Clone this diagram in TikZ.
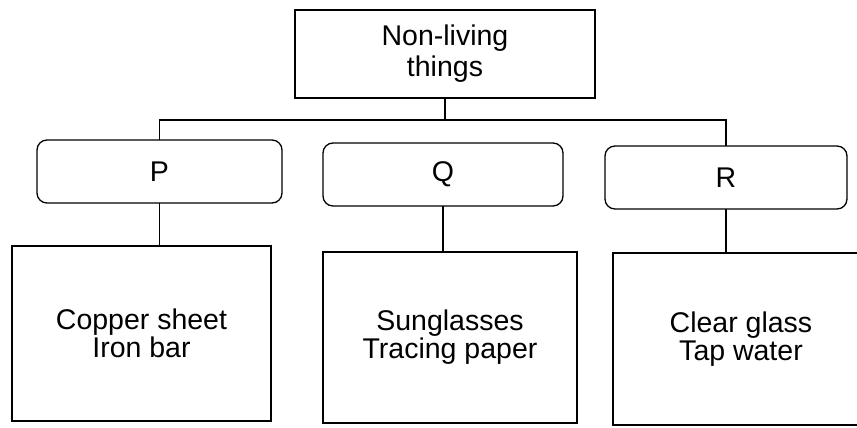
\documentclass[tikz,border=0pt]{standalone}
\usepackage{fontspec}
\setmainfont{Liberation Sans}
\begin{document}
\begin{tikzpicture}[x=1pt,y=-1pt,
  every node/.style={inner sep=0pt, outer sep=0pt},
  box/.style={draw, line width=1.3pt, align=center, font=\fontsize{28.5}{28}\selectfont},
  topbox/.style={box, font=\fontsize{28.5}{31}\selectfont},
  catbox/.style={box, rounded corners=10pt},
  link/.style={line width=1.3pt}]
\useasboundingbox (0,0) rectangle (857,428);
\clip (0,0) rectangle (857,428);
\node[topbox, minimum width=300pt, minimum height=88pt] (top) at (445,54) {Non-living\\things};
\node[catbox, minimum width=245pt, minimum height=63pt] (P) at (159.5,171.5) {P};
\node[catbox, minimum width=240pt, minimum height=63pt] (Q) at (443,174.5) {Q};
\node[catbox, minimum width=242pt, minimum height=63pt] (R) at (726,177.5) {R};
\node[box, minimum width=259pt, minimum height=175pt] (L) at (141.5,333.5) {Copper sheet\\Iron bar};
\node[box, minimum width=254pt, minimum height=171pt] (M) at (450,337.5) {Sunglasses\\Tracing paper};
\node[box, minimum width=256pt, minimum height=172pt] (BR) at (741,339) {Clear glass\\Tap water};
\coordinate (bar) at (445,120);
\draw[link] (top.south) -- (bar);
\draw[link] (P.north) |- (bar) -| (R.north);
\draw[link] (P.south) -- (P.south |- L.north);
\draw[link] (Q.south) -- (Q.south |- M.north);
\draw[link] (R.south) -- (R.south |- BR.north);
\end{tikzpicture}
\end{document}
